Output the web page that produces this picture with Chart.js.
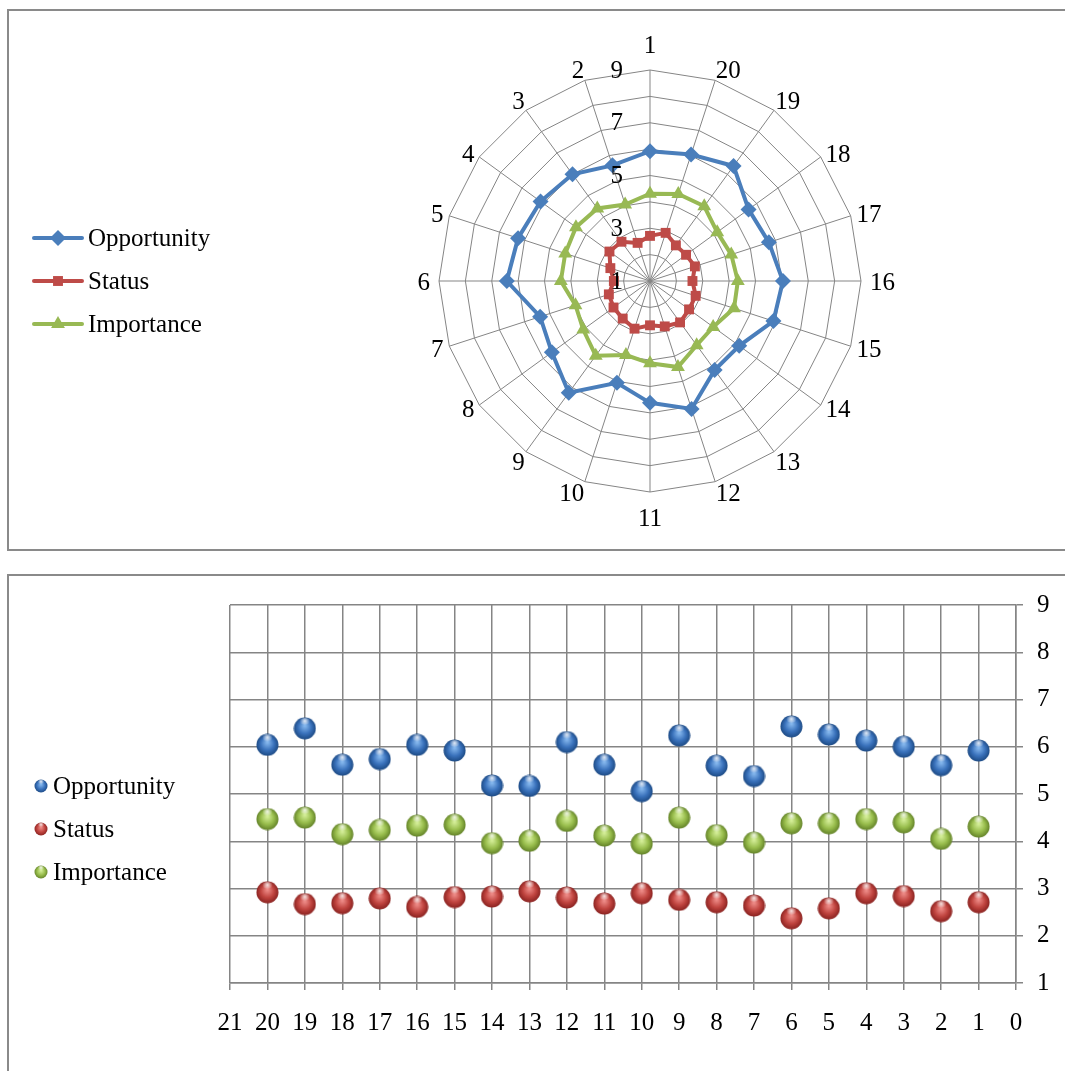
<!DOCTYPE html>
<html>
<head>
<meta charset="utf-8">
<script src="https://cdn.jsdelivr.net/npm/chart.js@4/dist/chart.umd.min.js"></script>
<style>
  body { margin: 0; background: #fff; width: 1065px; height: 1071px; overflow: hidden; position: relative; }
  .box { position: absolute; border: 2px solid #8a8a8a; box-sizing: border-box; }
  canvas { position: absolute; }
</style>
</head>
<body>
<div class="box" style="left:7px; top:9px; width:1120px; height:542px;"></div>
<div class="box" style="left:7px; top:574px; width:1120px; height:560px;"></div>
<canvas id="radar" width="1056" height="538" style="left:9px; top:11px;"></canvas>
<canvas id="scatter" width="1056" height="495" style="left:9px; top:576px;"></canvas>
<script>
const items = ["1", "2", "3", "4", "5", "6", "7", "8", "9", "10",
  "11", "12", "13", "14", "15", "16", "17", "18", "19", "20"];
const opportunity = [5.92, 5.61, 6.00, 6.13, 6.26, 6.43, 5.38, 5.60, 6.24, 5.06,
  5.62, 6.10, 5.17, 5.18, 5.92, 6.04, 5.74, 5.62, 6.39, 6.04];
const status = [2.71, 2.52, 2.84, 2.90, 2.58, 2.37, 2.64, 2.71, 2.76, 2.90,
  2.68, 2.81, 2.94, 2.83, 2.82, 2.61, 2.79, 2.69, 2.67, 2.92];
const importance = [4.31, 4.05, 4.40, 4.47, 4.38, 4.38, 3.97, 4.13, 4.50, 3.95,
  4.12, 4.43, 4.01, 3.96, 4.35, 4.33, 4.24, 4.15, 4.50, 4.47];
const seriesNames = ["Opportunity", "Status", "Importance"];
const radarTickLabels = [1, 3, 5, 7, 9];

const FONT = '"Liberation Serif", "Times New Roman", serif';
const GRID = "#858585";
const colors = ["#4a7ebb", "#be4b48", "#98b954"];

// radar runs counter-clockwise from the top: 1, 2, 3 ... 20
const radarOrder = items.map((_, i) => (items.length - i) % items.length);
const pick = (arr) => radarOrder.map((i) => arr[i]);

function marker(ctx, style, x, y, r) {
  ctx.beginPath();
  if (style === "rectRot") {
    ctx.moveTo(x, y - r); ctx.lineTo(x + r, y); ctx.lineTo(x, y + r); ctx.lineTo(x - r, y);
  } else if (style === "rect") {
    const s = r * Math.SQRT1_2;
    ctx.rect(x - s, y - s, 2 * s, 2 * s);
  } else {
    ctx.moveTo(x, y - r);
    ctx.lineTo(x + r * Math.sin(Math.PI * 2 / 3), y - r * Math.cos(Math.PI * 2 / 3));
    ctx.lineTo(x - r * Math.sin(Math.PI * 2 / 3), y - r * Math.cos(Math.PI * 2 / 3));
  }
  ctx.closePath();
  ctx.fill();
}

const radarLegend = {
  id: "radarLegend",
  afterDraw(chart) {
    const ctx = chart.ctx;
    ctx.save();
    chart.data.datasets.forEach((ds, i) => {
      const y = 227 + i * 43;
      ctx.strokeStyle = ds.borderColor;
      ctx.fillStyle = ds.backgroundColor;
      ctx.lineWidth = ds.borderWidth;
      ctx.lineCap = "round";
      ctx.beginPath();
      ctx.moveTo(25, y);
      ctx.lineTo(73, y);
      ctx.stroke();
      marker(ctx, ds.pointStyle, 49, y, ds.pointRadius);
      ctx.fillStyle = "#000";
      ctx.font = "25px " + FONT;
      ctx.textAlign = "left";
      ctx.textBaseline = "middle";
      ctx.fillText(ds.label, 79, y + 1);
    });
    ctx.restore();
  }
};

// value labels sit just left of the vertical spoke, centre one included
const radarTicks = {
  id: "radarTicks",
  afterDatasetsDraw(chart) {
    const r = chart.scales.r;
    const ctx = chart.ctx;
    ctx.save();
    ctx.font = "25px " + FONT;
    ctx.fillStyle = "#000";
    ctx.textAlign = "right";
    ctx.textBaseline = "middle";
    radarTickLabels.forEach((v) => {
      const d = r.getDistanceFromCenterForValue(v);
      ctx.fillText(String(v), r.xCenter - 27, r.yCenter - d + 1);
    });
    ctx.restore();
  }
};

// category labels placed the Excel way: corner on the spoke for oblique ones
const radarPointLabels = {
  id: "radarPointLabels",
  afterDraw(chart) {
    const r = chart.scales.r;
    const ctx = chart.ctx;
    const digitH = 17;
    ctx.save();
    ctx.font = "25px " + FONT;
    ctx.fillStyle = "#000";
    ctx.textBaseline = "alphabetic";
    chart.data.labels.forEach((label, i) => {
      const a = r.getIndexAngle(i);
      const s = Math.sin(a), c = Math.cos(a);
      let gap = 6;
      if (Math.abs(s) < 0.01) gap = 17;
      else if (Math.abs(c) < 0.01) gap = 9;
      else if (Math.abs(c) > 0.7) gap = 2;
      const p = r.getPointPosition(i, r.drawingArea + gap);
      ctx.textAlign = Math.abs(s) < 0.01 ? "center" : (s > 0 ? "left" : "right");
      let base;
      if (Math.abs(c) > 0.7) base = c > 0 ? p.y : p.y + digitH;
      else base = p.y + digitH / 2;
      ctx.fillText(label, p.x, base);
    });
    ctx.restore();
  }
};

const radarStyles = ["rectRot", "rect", "triangle"];
const radarRadius = [8, 7, 8];
const radarSeries = [opportunity, status, importance];

new Chart(document.getElementById("radar"), {
  type: "radar",
  data: {
    labels: pick(items),
    datasets: radarSeries.map((s, i) => ({
      label: seriesNames[i],
      data: pick(s),
      borderColor: colors[i],
      backgroundColor: colors[i],
      pointBackgroundColor: colors[i],
      pointBorderColor: colors[i],
      borderWidth: 4,
      pointStyle: radarStyles[i],
      pointRadius: radarRadius[i],
      pointBorderWidth: 0,
      fill: false,
      tension: 0
    }))
  },
  options: {
    responsive: false,
    animation: false,
    layout: { padding: { left: 430, right: 204, top: 59, bottom: 57 } },
    plugins: { legend: { display: false }, tooltip: { enabled: false } },
    scales: {
      r: {
        min: 1,
        max: 9,
        ticks: { stepSize: 1, display: false },
        grid: { color: GRID, lineWidth: 1 },
        angleLines: { color: GRID, lineWidth: 1 },
        pointLabels: { display: false }
      }
    }
  },
  plugins: [radarTicks, radarPointLabels, radarLegend]
});

function ball(base, light, dark, d) {
  const c = document.createElement("canvas");
  c.width = d; c.height = d;
  const g = c.getContext("2d");
  const r = d / 2;
  const grad = g.createRadialGradient(r, r * 0.75, r * 0.05, r, r, r);
  grad.addColorStop(0, light);
  grad.addColorStop(0.55, base);
  grad.addColorStop(1, dark);
  g.fillStyle = grad;
  g.beginPath();
  g.arc(r, r, r - 0.5, 0, Math.PI * 2);
  g.fill();
  const hl = g.createRadialGradient(r, r * 0.35, 0, r, r * 0.35, r * 0.45);
  hl.addColorStop(0, "rgba(255,255,255,0.85)");
  hl.addColorStop(1, "rgba(255,255,255,0)");
  g.fillStyle = hl;
  g.beginPath();
  g.ellipse(r, r * 0.38, r * 0.5, r * 0.3, 0, 0, Math.PI * 2);
  g.fill();
  return c;
}

const ballColors = [
  ["#3a72bc", "#86b8ee", "#1a4780"],
  ["#c0443f", "#ee8c88", "#86201e"],
  ["#98bd4c", "#d4ee98", "#5f7e26"]
];
const bigBalls = ballColors.map((c) => ball(c[0], c[1], c[2], 23));
const smallBalls = ballColors.map((c) => ball(c[0], c[1], c[2], 14));

const scatterLegend = {
  id: "scatterLegend",
  afterDraw(chart) {
    const ctx = chart.ctx;
    ctx.save();
    chart.data.datasets.forEach((ds, i) => {
      const y = 210 + i * 43;
      ctx.drawImage(smallBalls[i], 32 - 7, y - 7);
      ctx.fillStyle = "#000";
      ctx.font = "25px " + FONT;
      ctx.textAlign = "left";
      ctx.textBaseline = "middle";
      ctx.fillText(ds.label, 44, y + 1);
    });
    ctx.restore();
  }
};

const tickFont = { family: FONT, size: 25 };

new Chart(document.getElementById("scatter"), {
  type: "scatter",
  data: {
    datasets: radarSeries.map((s, i) => ({
      label: seriesNames[i],
      data: s.map((v, k) => ({ x: Number(items[k]), y: v })),
      pointStyle: bigBalls[i],
      pointRadius: 11,
      backgroundColor: colors[i]
    }))
  },
  options: {
    responsive: false,
    animation: false,
    layout: { padding: { left: 221, right: 0, top: 26, bottom: 0 } },
    plugins: { legend: { display: false }, tooltip: { enabled: false } },
    scales: {
      x: {
        type: "linear",
        min: 0,
        max: 21,
        reverse: true,
        grid: { color: GRID, lineWidth: 1.5, tickLength: 7 },
        border: { color: GRID, width: 1.5 },
        ticks: { stepSize: 1, autoSkip: false, maxRotation: 0, font: tickFont, color: "#000", padding: 18 },
        afterFit: (scale) => { scale.height = 88; }
      },
      y: {
        position: "right",
        min: 1,
        max: 9,
        grid: { color: GRID, lineWidth: 1.5, tickLength: 7 },
        border: { color: GRID, width: 1.5 },
        ticks: { stepSize: 1, font: tickFont, color: "#000", padding: 14 },
        afterFit: (scale) => { scale.width = 49; }
      }
    }
  },
  plugins: [scatterLegend]
});
</script>
</body>
</html>
